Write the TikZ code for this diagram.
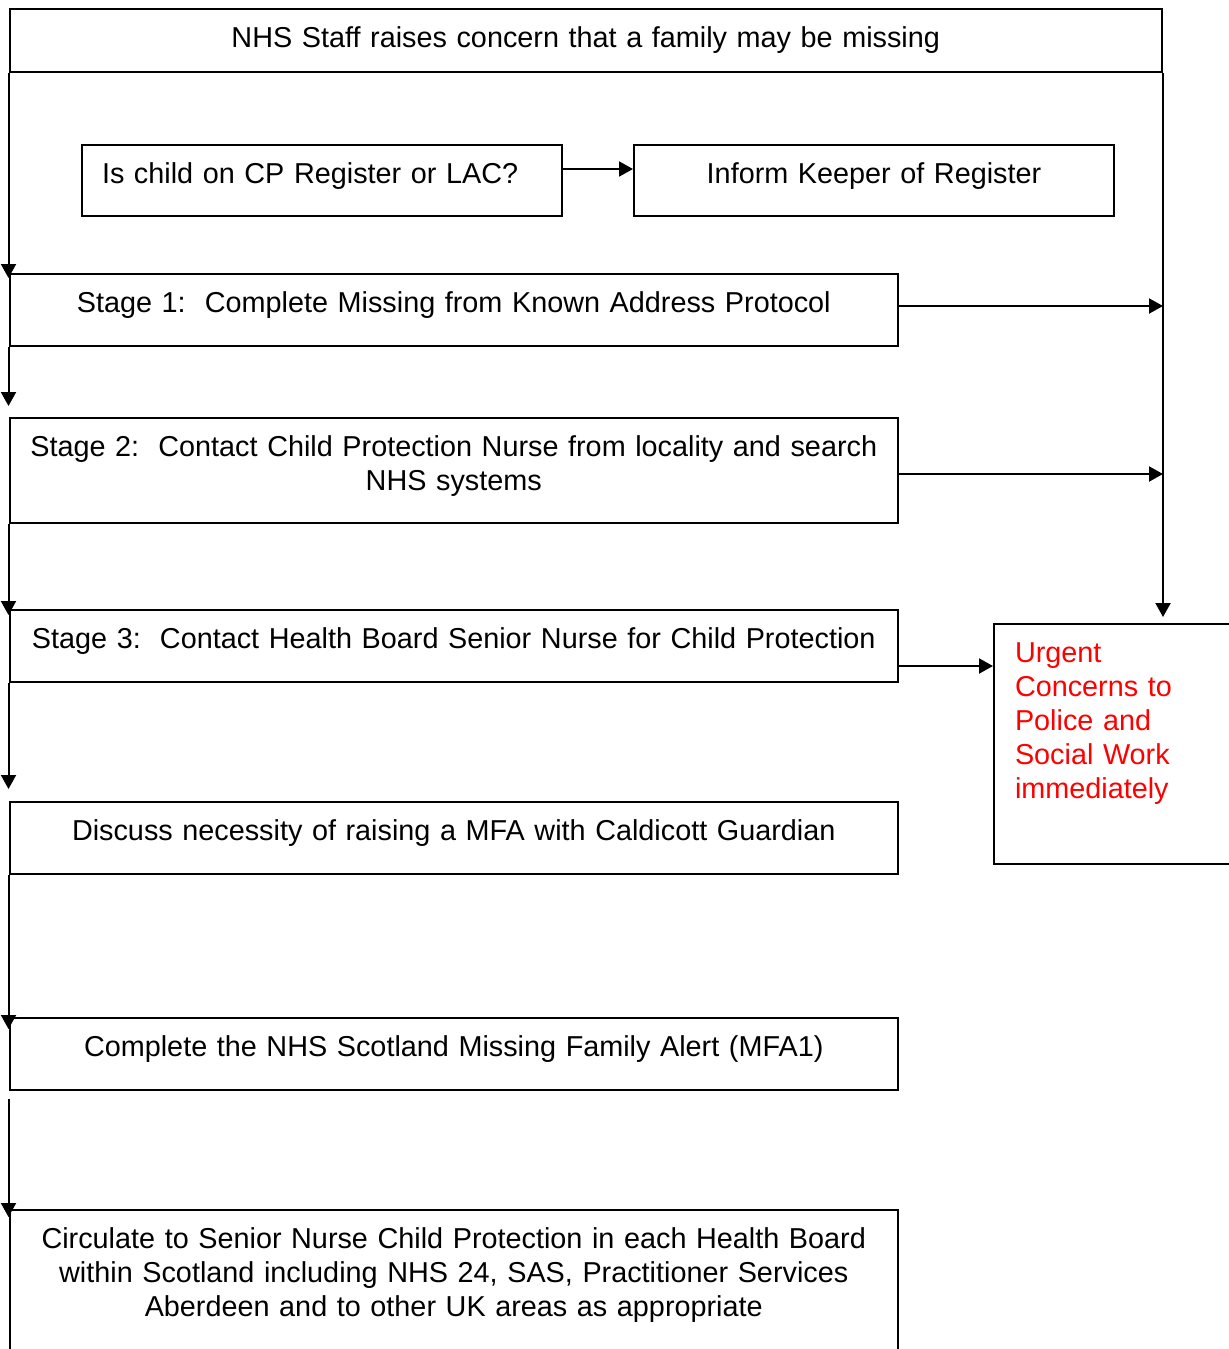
\documentclass[tikz,border=0pt]{standalone}
\usepackage{fontspec}
\setmainfont{Liberation Sans}
\usepackage{xcolor}
\usepackage{tikz}
\usetikzlibrary{arrows.meta}
\definecolor{nhsred}{RGB}{255, 0, 0}
\newcommand{\flowfont}{\fontsize{14.4}{17}\selectfont}

\begin{document}
\begin{tikzpicture}[x=0.5pt, y=-0.5pt,
    stagebox/.style={draw, line width=1pt, anchor=north west, inner sep=0pt,
        text height=19pt, align=center, font=\flowfont},
    flow/.style={line width=1pt, -{Triangle[length=7pt, width=7.5pt]}}]
\useasboundingbox (0,0) rectangle (1229,1349);

% Concern raised
\node[stagebox, text width=576.25pt, text depth=12.5pt] (concern) at (8.5,8)
    {NHS Staff raises concern that a family may be missing};

% Register check
\node[stagebox, text width=220pt, inner xsep=10pt, align=left, text depth=16.5pt] (register) at (81,144)
    {Is child on CP Register or LAC?};
\node[stagebox, text width=240pt, text depth=16.5pt] (keeper) at (633,144)
    {Inform Keeper of Register};

% The three stages
\node[stagebox, text width=444.25pt, text depth=17pt] (stage1) at (8.5,273)
    {Stage 1:\ \ Complete Missing from Known Address Protocol};
\node[stagebox, text width=444.25pt, text depth=33.5pt] (stage2) at (8.5,417)
    {Stage 2:\ \ Contact Child Protection Nurse from locality and search\\NHS systems};
\node[stagebox, text width=444.25pt, text depth=17pt] (stage3) at (8.5,609)
    {Stage 3:\ \ Contact Health Board Senior Nurse for Child Protection};

% Urgent route
\node[stagebox, text width=110pt, inner xsep=10.5pt, align=left, text=nhsred, text depth=101pt] (urgent) at (993,623)
    {Urgent\\Concerns to\\Police and\\Social Work\\immediately};

% MFA
\node[stagebox, text width=444.25pt, text depth=17pt] (discuss) at (8.5,801)
    {Discuss necessity of raising a MFA with Caldicott Guardian};
\node[stagebox, text width=444.25pt, text depth=17pt] (complete) at (8.5,1017)
    {Complete the NHS Scotland Missing Family Alert (MFA1)};
\node[stagebox, text width=444.25pt, text depth=56.5pt] (circulate) at (8.5,1209)
    {Circulate to Senior Nurse Child Protection in each Health Board\\
     within Scotland including NHS 24, SAS, Practitioner Services\\
     Aberdeen and to other UK areas as appropriate};

% Left rail
\draw[flow, shorten >=-2.5pt] (concern.south west) -- (stage1.north west);
\draw[flow, shorten >=5.5pt] (stage1.south west) -- (stage2.north west);
\draw[flow, shorten >=-3pt] (stage2.south west) -- (stage3.north west);
\draw[flow, shorten >=6pt] (stage3.south west) -- (discuss.north west);
\draw[flow, shorten >=-6pt] (discuss.south west) -- (complete.north west);
\draw[flow, shorten <=4pt, shorten >=-4pt] (complete.south west) -- (circulate.north west);

% Register arrow
\draw[flow] ([yshift=5.75pt]register.east) -- ([yshift=5.75pt]register.east -| keeper.west);

% Right rail
\draw[flow, shorten >=3pt] (concern.south east) -- (concern.south east |- urgent.north);
\draw[flow] ([yshift=2pt]stage1.east) -- ([yshift=2pt]stage1.east -| concern.east);
\draw[flow] ([yshift=-1.75pt]stage2.east) -- ([yshift=-1.75pt]stage2.east -| concern.east);
\draw[flow] ([yshift=-10pt]stage3.east) -- ([yshift=-10pt]stage3.east -| urgent.west);
\end{tikzpicture}
\end{document}
